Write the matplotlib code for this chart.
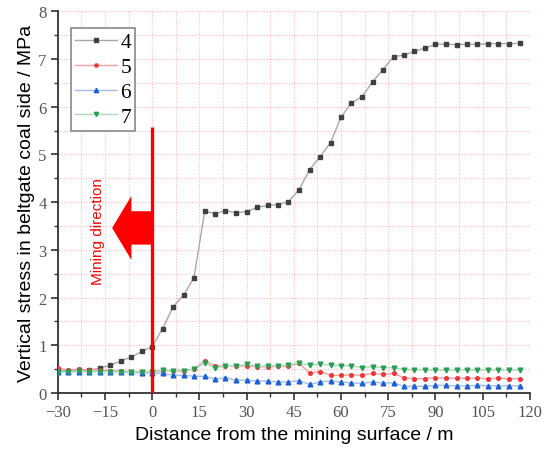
import matplotlib
matplotlib.use("Agg")
import matplotlib.pyplot as plt
from matplotlib.ticker import MultipleLocator
from matplotlib.patches import FancyArrow

distance = [-30.0, -26.7, -23.3, -20.0, -16.7, -13.3, -10.0, -6.7, -3.3, 0.0,
            3.3, 6.7, 10.0, 13.3, 16.7, 20.0, 23.3, 26.7, 30.0, 33.3,
            36.7, 40.0, 43.3, 46.7, 50.0, 53.3, 56.7, 60.0, 63.3, 66.7,
            70.0, 73.3, 76.7, 80.0, 83.3, 86.7, 90.0, 93.3, 96.7, 100.0,
            103.3, 106.7, 110.0, 113.3, 116.7]

s4 = [0.47, 0.47, 0.48, 0.48, 0.52, 0.58, 0.67, 0.75, 0.87, 0.97,
      1.35, 1.81, 2.05, 2.42, 3.81, 3.76, 3.82, 3.78, 3.80, 3.89,
      3.93, 3.95, 4.01, 4.26, 4.68, 4.95, 5.25, 5.78, 6.08, 6.21,
      6.52, 6.78, 7.05, 7.08, 7.16, 7.23, 7.31, 7.31, 7.30, 7.31,
      7.31, 7.32, 7.32, 7.32, 7.33]

s5 = [0.53, 0.48, 0.50, 0.48, 0.48, 0.47, 0.46, 0.45, 0.44, 0.44,
      0.47, 0.46, 0.46, 0.51, 0.67, 0.57, 0.56, 0.56, 0.57, 0.55,
      0.55, 0.56, 0.57, 0.62, 0.42, 0.45, 0.37, 0.37, 0.38, 0.37,
      0.41, 0.39, 0.41, 0.32, 0.30, 0.30, 0.32, 0.31, 0.31, 0.31,
      0.31, 0.30, 0.31, 0.30, 0.30]

s6 = [0.44, 0.44, 0.45, 0.44, 0.45, 0.45, 0.44, 0.43, 0.42, 0.42,
      0.41, 0.37, 0.37, 0.35, 0.35, 0.29, 0.32, 0.27, 0.27, 0.25,
      0.25, 0.23, 0.23, 0.26, 0.18, 0.23, 0.25, 0.23, 0.21, 0.20,
      0.23, 0.21, 0.21, 0.14, 0.14, 0.14, 0.16, 0.16, 0.15, 0.15,
      0.16, 0.15, 0.15, 0.15, 0.15]

s7 = [0.45, 0.44, 0.46, 0.45, 0.45, 0.45, 0.45, 0.45, 0.44, 0.44,
      0.48, 0.47, 0.46, 0.50, 0.62, 0.53, 0.56, 0.56, 0.60, 0.56,
      0.56, 0.57, 0.58, 0.63, 0.58, 0.60, 0.58, 0.57, 0.57, 0.53,
      0.55, 0.53, 0.53, 0.49, 0.49, 0.48, 0.48, 0.48, 0.48, 0.48,
      0.48, 0.48, 0.48, 0.48, 0.48]

labels = ["4", "5", "6", "7"]
xticks = [-30, -15, 0, 15, 30, 45, 60, 75, 90, 105, 120]
yticks = [0, 1, 2, 3, 4, 5, 6, 7, 8]

fig = plt.figure(figsize=(5.52, 4.56), dpi=100)
ax = fig.add_axes([0.1045, 0.136, 0.8555, 0.837])

styles = [
    (s4, "#a8a8a8", "#404040", "s", 3.3),
    (s5, "#f5a0a0", "#f03535", "o", 2.6),
    (s6, "#9dbdf0", "#1a5fd6", "^", 3.4),
    (s7, "#a8dcb8", "#2a9d55", "v", 3.4),
]
for (vals, lc, mc, mk, ms), lab in zip(styles, labels):
    ax.plot(distance, vals, color=lc, lw=1.0, marker=mk, ms=ms,
            mfc=mc, mec=mc, label=lab, zorder=3)

ax.set_xlim(-30, 120)
ax.set_ylim(0, 8)
ax.set_xticks(xticks)
ax.set_yticks(yticks)
ax.xaxis.set_minor_locator(MultipleLocator(7.5))
ax.yaxis.set_minor_locator(MultipleLocator(0.5))
ax.set_xticklabels([str(t).replace("-", "\u2212") for t in xticks],
                   family="Liberation Serif", fontsize=12, color="#555555")
ax.set_yticklabels([str(t) for t in yticks],
                   family="Liberation Serif", fontsize=12, color="#555555")

ax.grid(True, which="both", color="#ff8080", alpha=0.55, lw=0.8,
        linestyle=(0, (1, 1.5)))
ax.set_axisbelow(True)
for side in ("top", "right"):
    ax.spines[side].set_visible(False)
for side in ("left", "bottom"):
    ax.spines[side].set_color("#333333")
    ax.spines[side].set_linewidth(1.3)
ax.tick_params(which="major", length=5, width=1.2, color="#333333", pad=3)
ax.tick_params(which="minor", length=3, width=1.0, color="#333333")

ax.set_xlabel("Distance from the mining surface / m", family="Liberation Sans",
              fontsize=14, labelpad=4)
ax.set_ylabel("Vertical stress in beltgate coal side / MPa",
              family="Liberation Sans", fontsize=14, labelpad=2)

# mining face line and direction arrow
ax.plot([0, 0], [0, 5.58], color="#ff0000", lw=2.4, zorder=4, solid_capstyle="butt")
arrow = FancyArrow(0, 3.46, -12.7, 0, width=0.7, head_width=1.34,
                   head_length=6.1, length_includes_head=True,
                   color="#ff0000", lw=0, zorder=4)
ax.add_patch(arrow)
ax.text(-17.3, 3.4, "Mining direction", rotation=90, color="#ff0000",
        family="Liberation Sans", fontsize=11, ha="center", va="center")

leg = ax.legend(loc="upper left", bbox_to_anchor=(0.028, 0.956),
                borderaxespad=0,
                prop={"family": "Liberation Serif", "size": 15.5},
                handlelength=1.95, handletextpad=0.15, labelspacing=0.22,
                borderpad=0.2, fancybox=False, shadow=False,
                edgecolor="#888888", framealpha=1.0, markerscale=0.9)
leg.get_frame().set_linewidth(1.2)

fig.savefig("out.png", dpi=100)
